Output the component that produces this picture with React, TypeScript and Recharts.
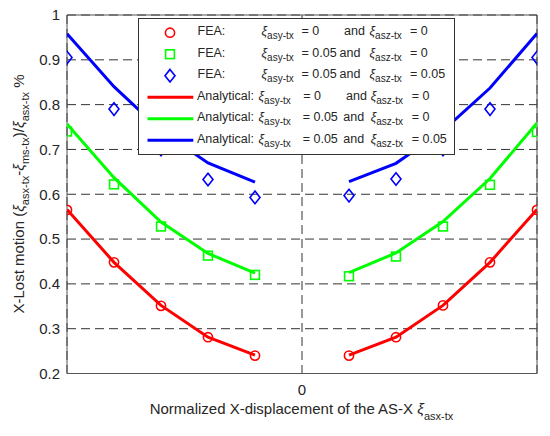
import React from 'react';
import {
  ComposedChart,
  Line,
  Scatter,
  XAxis,
  YAxis,
  CartesianGrid,
  Legend,
  ReferenceArea,
} from 'recharts';

// ---- data ----
const xLeft = [-1, -0.8, -0.6, -0.4, -0.2];
const xRight = [0.2, 0.4, 0.6, 0.8, 1];
const xPositions = [...xLeft, ...xRight];

// FEA (markers)
const feaRed = [0.565, 0.448, 0.351, 0.281, 0.24, 0.24, 0.281, 0.352, 0.448, 0.565];
const feaGreen = [0.74, 0.622, 0.528, 0.463, 0.42, 0.417, 0.461, 0.528, 0.621, 0.739];
const feaBlue = [0.905, 0.79, 0.7, 0.633, 0.593, 0.597, 0.634, 0.7, 0.79, 0.905];

// Analytical (lines)
const anaRed = [0.566, 0.448, 0.352, 0.281, 0.241, 0.241, 0.281, 0.352, 0.448, 0.566];
const anaGreen = [0.757, 0.637, 0.538, 0.468, 0.424, 0.425, 0.469, 0.539, 0.635, 0.759];
const anaBlue = [0.958, 0.84, 0.742, 0.67, 0.627, 0.628, 0.669, 0.742, 0.837, 0.959];

const yTicks = [0.2, 0.3, 0.4, 0.5, 0.6, 0.7, 0.8, 0.9, 1];
const xTicks = [0];

const RED = '#ff0000';
const GREEN = '#00ff00';
const BLUE = '#0000ff';
const TEXT = '#262626';
const FONT = '"Liberation Sans", Arial, Helvetica, sans-serif';

// line table with a gap at x = 0
const lineTable = [
  ...xLeft.map((x, i) => ({ x, red: anaRed[i], green: anaGreen[i], blue: anaBlue[i] })),
  { x: 0, red: null, green: null, blue: null },
  ...xRight.map((x, i) => ({
    x,
    red: anaRed[i + 5],
    green: anaGreen[i + 5],
    blue: anaBlue[i + 5],
  })),
];

const redPts = xPositions.map((x, i) => ({ x, y: feaRed[i] }));
const greenPts = xPositions.map((x, i) => ({ x, y: feaGreen[i] }));
const bluePts = xPositions.map((x, i) => ({ x, y: feaBlue[i] }));

// ---- marker shapes ----
const CircleMark = (p: any) => (
  <circle cx={p.cx} cy={p.cy} r={4.6} fill="none" stroke={RED} strokeWidth={1.6} />
);
const SquareMark = (p: any) => (
  <rect x={p.cx - 4.4} y={p.cy - 4.4} width={8.8} height={8.8} fill="none" stroke={GREEN} strokeWidth={1.6} />
);
const DiamondMark = (p: any) => (
  <path
    d={`M${p.cx},${p.cy - 6.3} L${p.cx + 5},${p.cy} L${p.cx},${p.cy + 6.3} L${p.cx - 5},${p.cy} Z`}
    fill="none"
    stroke={BLUE}
    strokeWidth={1.6}
  />
);

// ---- labels ----
const XLabel = () => (
  <text x={301.5} y={414} textAnchor="middle" fontSize={15} fill={TEXT} fontFamily={FONT}>
    Normalized X-displacement of the AS-X{' '}
    <tspan fontStyle="italic">ξ</tspan>
    <tspan fontSize={11} dy={6}>asx-tx</tspan>
  </text>
);

const YLabel = () => (
  <text
    x={24}
    y={194}
    transform="rotate(-90, 24, 194)"
    textAnchor="middle"
    fontSize={15}
    fill={TEXT}
    fontFamily={FONT}
  >
    X-Lost motion (<tspan fontStyle="italic">ξ</tspan>
    <tspan fontSize={11} dy={5}>asx-tx</tspan>
    <tspan dy={-5}>-</tspan>
    <tspan fontStyle="italic">ξ</tspan>
    <tspan fontSize={11} dy={5}>ms-tx</tspan>
    <tspan dy={-5}>)/</tspan>
    <tspan fontStyle="italic">ξ</tspan>
    <tspan fontSize={11} dy={5}>asx-tx</tspan>
    <tspan dy={-5}> %</tspan>
  </text>
);

// ---- legend ----
type Row = {
  kind: 'circle' | 'square' | 'diamond' | 'line';
  color: string;
  label: string;
  a: string;
  b: string;
  xs: number[]; // label, xi1, eq1, and, xi2, eq2
};

const legendRows: Row[] = [
  { kind: 'circle', color: RED, label: 'FEA:', a: '0', b: '0', xs: [59.5, 123.5, 163.5, 206, 231.5, 272] },
  { kind: 'square', color: GREEN, label: 'FEA:', a: '0.05', b: '0', xs: [59.5, 123.5, 163.5, 201.5, 231.5, 272] },
  { kind: 'diamond', color: BLUE, label: 'FEA:', a: '0.05', b: '0.05', xs: [59.5, 123.5, 163.5, 201.5, 231.5, 272] },
  { kind: 'line', color: RED, label: 'Analytical:', a: '0', b: '0', xs: [59, 120.5, 165.3, 208, 232.7, 273.7] },
  { kind: 'line', color: GREEN, label: 'Analytical:', a: '0.05', b: '0', xs: [59, 120.5, 164.7, 205.3, 232.7, 273.7] },
  { kind: 'line', color: BLUE, label: 'Analytical:', a: '0.05', b: '0.05', xs: [59, 120.5, 164.7, 205.3, 232.7, 273.7] },
];

const LegendBox = () => {
  const W = 317;
  const H = 137;
  return (
    <svg width={W} height={H} style={{ display: 'block' }}>
      <rect x={0.5} y={0.5} width={W - 1} height={H - 1} fill="#ffffff" stroke="#333333" strokeWidth={1} />
      {legendRows.map((r, i) => {
        const cy = 14.7 + i * 21.5;
        const by = cy + 2.5;
        const cx = 32;
        let mark: React.ReactNode = null;
        if (r.kind === 'circle') mark = <CircleMark cx={cx} cy={cy} />;
        else if (r.kind === 'square') mark = <SquareMark cx={cx} cy={cy} />;
        else if (r.kind === 'diamond') mark = <DiamondMark cx={cx} cy={cy} />;
        else mark = <line x1={9.5} x2={55.3} y1={cy} y2={cy} stroke={r.color} strokeWidth={3} />;
        const [xl, xx1, xe1, xand, xx2, xe2] = r.xs;
        return (
          <g key={i} fontFamily={FONT} fontSize={12.5} fill={TEXT}>
            {mark}
            <text x={xl} y={by}>{r.label}</text>
            <text x={xx1} y={by}>
              <tspan fontStyle="italic">ξ</tspan>
              <tspan fontSize={10} dy={4}>asy-tx</tspan>
            </text>
            <text x={xe1} y={by}>= {r.a}</text>
            <text x={xand} y={by}>and</text>
            <text x={xx2} y={by}>
              <tspan fontStyle="italic">ξ</tspan>
              <tspan fontSize={10} dy={4}>asz-tx</tspan>
            </text>
            <text x={xe2} y={by}>= {r.b}</text>
          </g>
        );
      })}
    </svg>
  );
};

export default function App() {
  return (
    <div style={{ position: 'absolute', left: 0, top: 0, width: 550, height: 436, background: '#fff' }}>
      <ComposedChart
        width={550}
        height={436}
        data={lineTable}
        margin={{ top: 15, right: 13, bottom: 12.5, left: 0 }}
      >
        <CartesianGrid stroke="#333333" strokeDasharray="9 5" strokeWidth={1} />
        <XAxis
          type="number"
          dataKey="x"
          domain={[-1, 1]}
          ticks={xTicks}
          allowDataOverflow
          height={50}
          axisLine={false}
          tickLine={false}
          tickSize={0}
          tickMargin={11}
          tick={{ fontSize: 15, fill: TEXT, fontFamily: FONT }}
          label={<XLabel />}
        />
        <YAxis
          type="number"
          domain={[0.2, 1]}
          ticks={yTicks}
          allowDataOverflow
          width={67}
          axisLine={false}
          tickLine={false}
          tickSize={0}
          tickMargin={7}
          tick={{ fontSize: 15, fill: TEXT, fontFamily: FONT }}
          tickFormatter={(v: number) => (v === 1 ? '1' : v.toFixed(1))}
          label={<YLabel />}
        />
        <ReferenceArea
          x1={-1}
          x2={1}
          y1={0.2}
          y2={1}
          fill="none"
          stroke="#555555"
          strokeWidth={1}
          ifOverflow="visible"
        />
        <Line dataKey="red" type="linear" stroke={RED} strokeWidth={3} dot={false} isAnimationActive={false} connectNulls={false} legendType="none" />
        <Line dataKey="green" type="linear" stroke={GREEN} strokeWidth={3} dot={false} isAnimationActive={false} connectNulls={false} legendType="none" />
        <Line dataKey="blue" type="linear" stroke={BLUE} strokeWidth={3} dot={false} isAnimationActive={false} connectNulls={false} legendType="none" />
        <Scatter data={redPts} dataKey="y" shape={CircleMark} isAnimationActive={false} legendType="none" />
        <Scatter data={greenPts} dataKey="y" shape={SquareMark} isAnimationActive={false} legendType="none" />
        <Scatter data={bluePts} dataKey="y" shape={DiamondMark} isAnimationActive={false} legendType="none" />
        <Legend
          layout="vertical"
          align="center"
          verticalAlign="middle"
          width={317}
          height={137}
          wrapperStyle={{ left: 138, top: 18, width: 317, height: 137, lineHeight: 0 }}
          content={() => <LegendBox />}
        />
      </ComposedChart>
    </div>
  );
}
